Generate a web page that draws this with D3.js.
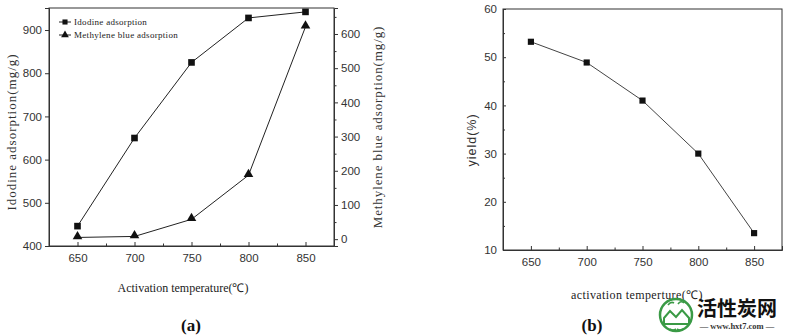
<!DOCTYPE html>
<html>
<head>
<meta charset="utf-8">
<script src="https://cdn.jsdelivr.net/npm/d3@7"></script>
<style>
  html, body { margin: 0; padding: 0; background: #fff; }
  svg { display: block; }
  .tick text { font-family: "Liberation Sans", Arial, sans-serif; font-size: 11.5px; fill: #333; }
  .domain { stroke: #333; }
  .tick line { stroke: #333; }
</style>
</head>
<body>
<svg id="chart" width="786" height="336"></svg>
<script>
// Activation temperature (°C) and the measured responses
const temps = [650, 700, 750, 800, 850];
const iodine = [446, 650, 825, 928, 942];          // mg/g
const methyleneBlue = [5, 8, 58, 187, 621];        // mg/g
const yieldPct = [53.2, 48.9, 41, 30, 13.5];       // %

const tempTicks = [650, 700, 750, 800, 850];
const tempMinor = [675, 725, 775, 825];
const iodineTicks = [400, 500, 600, 700, 800, 900];
const mbTicks = [0, 100, 200, 300, 400, 500, 600];
const mbMinor = [50, 150, 250, 350, 450, 550, 650];
const yieldTicks = [10, 20, 30, 40, 50, 60];
const yieldMinor = [15, 25, 35, 45, 55];

const svg = d3.select("#chart");
const serif = '"Liberation Serif", "Times New Roman", serif';

// ---------- Panel (a): iodine and methylene blue adsorption ----------
const A = { left: 49, right: 334, top: 8, bottom: 246 };
const xA = d3.scaleLinear().domain([625, 875]).range([A.left, A.right]);
const yI = d3.scaleLinear().domain([400, 951]).range([A.bottom, A.top]);
const yM = d3.scaleLinear().domain([-20, 676]).range([A.bottom, A.top]);

const gA = svg.append("g");

gA.append("rect")
  .attr("x", A.left).attr("y", A.top)
  .attr("width", A.right - A.left).attr("height", A.bottom - A.top)
  .attr("fill", "none").attr("stroke", "#333").attr("stroke-width", 1);

gA.append("g").attr("transform", `translate(0,${A.bottom})`)
  .call(d3.axisBottom(xA).tickValues(tempTicks).tickSize(-4).tickPadding(8).tickFormat(d3.format("d")));
gA.append("g").attr("transform", `translate(0,${A.bottom})`)
  .call(d3.axisBottom(xA).tickValues(tempMinor).tickSize(-2.5).tickFormat(""))
  .call(g => g.select(".domain").remove());

gA.append("g").attr("transform", `translate(${A.left},0)`)
  .call(d3.axisLeft(yI).tickValues(iodineTicks).tickSize(4).tickPadding(3).tickFormat(d3.format("d")));

gA.append("g").attr("transform", `translate(${A.right},0)`)
  .call(d3.axisRight(yM).tickValues(mbTicks).tickSize(4).tickPadding(3).tickFormat(d3.format("d")));
gA.append("g").attr("transform", `translate(${A.right},0)`)
  .call(d3.axisRight(yM).tickValues(mbMinor.filter(v => v < 676)).tickSize(2.5).tickFormat(""))
  .call(g => g.select(".domain").remove());

const lineI = d3.line().x((d, i) => xA(temps[i])).y(d => yI(d));
const lineM = d3.line().x((d, i) => xA(temps[i])).y(d => yM(d));

gA.append("path").datum(iodine).attr("d", lineI)
  .attr("fill", "none").attr("stroke", "#222").attr("stroke-width", 1);
gA.append("path").datum(methyleneBlue).attr("d", lineM)
  .attr("fill", "none").attr("stroke", "#222").attr("stroke-width", 1);

const sq = d3.symbol().type(d3.symbolSquare).size(44);
const tri = d3.symbol().type(d3.symbolTriangle).size(40);

gA.selectAll(".mI").data(iodine).join("path")
  .attr("d", sq).attr("fill", "#111")
  .attr("transform", (d, i) => `translate(${xA(temps[i])},${yI(d)})`);
gA.selectAll(".mM").data(methyleneBlue).join("path")
  .attr("d", tri).attr("fill", "#111")
  .attr("transform", (d, i) => `translate(${xA(temps[i])},${yM(d) - 1})`);

// legend
const legend = [
  { label: "Idodine adsorption", type: d3.symbolSquare, y: 22 },
  { label: "Methylene blue adsorption", type: d3.symbolTriangle, y: 35 }
];
legend.forEach(l => {
  gA.append("line").attr("x1", 59).attr("x2", 71).attr("y1", l.y).attr("y2", l.y)
    .attr("stroke", "#222").attr("stroke-width", 1);
  gA.append("path").attr("d", d3.symbol().type(l.type).size(26)()).attr("fill", "#111")
    .attr("transform", `translate(65,${l.y})`);
  gA.append("text").attr("x", 74).attr("y", l.y + 3)
    .attr("font-family", serif).attr("font-size", 9).attr("letter-spacing", 0.3)
    .attr("fill", "#222")
    .text(l.label);
});

gA.append("text")
  .attr("transform", `translate(16,132) rotate(-90)`)
  .attr("text-anchor", "middle").attr("font-family", serif).attr("font-size", 13)
  .attr("letter-spacing", 1).attr("fill", "#333")
  .text("Idodine adsorption(mg/g)");

gA.append("text")
  .attr("transform", `translate(382,127) rotate(-90)`)
  .attr("text-anchor", "middle").attr("font-family", serif).attr("font-size", 13)
  .attr("letter-spacing", 0.9).attr("fill", "#333")
  .text("Methylene blue adsorption(mg/g)");

gA.append("text")
  .attr("x", 183).attr("y", 292)
  .attr("text-anchor", "middle").attr("font-family", serif).attr("font-size", 12)
  .attr("fill", "#222")
  .text("Activation temperature(℃)");

gA.append("text")
  .attr("x", 191).attr("y", 331)
  .attr("text-anchor", "middle").attr("font-family", serif).attr("font-size", 17)
  .attr("font-weight", "bold").attr("fill", "#111")
  .text("(a)");

// ---------- Panel (b): yield ----------
const B = { left: 503, right: 782, top: 9, bottom: 250 };
const xB = d3.scaleLinear().domain([625, 875]).range([B.left, B.right]);
const yB = d3.scaleLinear().domain([10, 60]).range([B.bottom, B.top]);

const gB = svg.append("g");

gB.append("rect")
  .attr("x", B.left).attr("y", B.top)
  .attr("width", B.right - B.left).attr("height", B.bottom - B.top)
  .attr("fill", "none").attr("stroke", "#333").attr("stroke-width", 1);

gB.append("g").attr("transform", `translate(0,${B.bottom})`)
  .call(d3.axisBottom(xB).tickValues(tempTicks).tickSize(-4).tickPadding(8).tickFormat(d3.format("d")));
gB.append("g").attr("transform", `translate(0,${B.bottom})`)
  .call(d3.axisBottom(xB).tickValues(tempMinor).tickSize(-2.5).tickFormat(""))
  .call(g => g.select(".domain").remove());

gB.append("g").attr("transform", `translate(${B.left},0)`)
  .call(d3.axisLeft(yB).tickValues(yieldTicks).tickSize(-3).tickPadding(6).tickFormat(d3.format("d")));
gB.append("g").attr("transform", `translate(${B.left},0)`)
  .call(d3.axisLeft(yB).tickValues(yieldMinor).tickSize(-2).tickFormat(""))
  .call(g => g.select(".domain").remove());

const lineY = d3.line().x((d, i) => xB(temps[i])).y(d => yB(d));
gB.append("path").datum(yieldPct).attr("d", lineY)
  .attr("fill", "none").attr("stroke", "#444").attr("stroke-width", 1);

const sqB = d3.symbol().type(d3.symbolSquare).size(38);
gB.selectAll(".mY").data(yieldPct).join("path")
  .attr("d", sqB).attr("fill", "#111")
  .attr("transform", (d, i) => `translate(${xB(temps[i])},${yB(d)})`);

gB.append("text")
  .attr("transform", `translate(476,140) rotate(-90)`)
  .attr("text-anchor", "middle").attr("font-family", "'Liberation Sans', Arial, sans-serif")
  .attr("font-size", 12.5).attr("letter-spacing", 1).attr("fill", "#333")
  .text("yield(%)");

gB.append("text")
  .attr("x", 637).attr("y", 299)
  .attr("text-anchor", "middle").attr("font-family", serif).attr("font-size", 12)
  .attr("letter-spacing", 0.4).attr("fill", "#222")
  .text("activation temperture(℃)");

gB.append("text")
  .attr("x", 592).attr("y", 331)
  .attr("text-anchor", "middle").attr("font-family", serif).attr("font-size", 17)
  .attr("font-weight", "bold").attr("fill", "#111")
  .text("(b)");

// ---------- site mark ----------
const wm = svg.append("g");
wm.append("circle").attr("cx", 676).attr("cy", 315).attr("r", 16)
  .attr("fill", "#fff").attr("stroke", "#3a9a45").attr("stroke-width", 2.5);
wm.append("path")
  .attr("d", "M664,318 L670,311 L676,317 L682,310 L689,318 L689,324 L664,324 Z")
  .attr("fill", "none").attr("stroke", "#3a9a45").attr("stroke-width", 2);
wm.append("path")
  .attr("d", "M668,305 q3,-4 6,-2 M678,304 q3,-4 6,-1 M670,329 q3,2 6,0 M677,329 q3,2 6,0")
  .attr("fill", "none").attr("stroke", "#3a9a45").attr("stroke-width", 1.6);
wm.append("text")
  .attr("x", 697).attr("y", 316)
  .attr("font-family", "'Noto Sans CJK SC', sans-serif").attr("font-weight", "bold")
  .attr("font-size", 20).attr("fill", "#111")
  .text("活性炭网");
wm.append("text")
  .attr("x", 737).attr("y", 329)
  .attr("text-anchor", "middle")
  .attr("font-family", serif).attr("font-weight", "bold")
  .attr("font-size", 8.5).attr("fill", "#333")
  .text("— www.hxt7.com —");
</script>
</body>
</html>
